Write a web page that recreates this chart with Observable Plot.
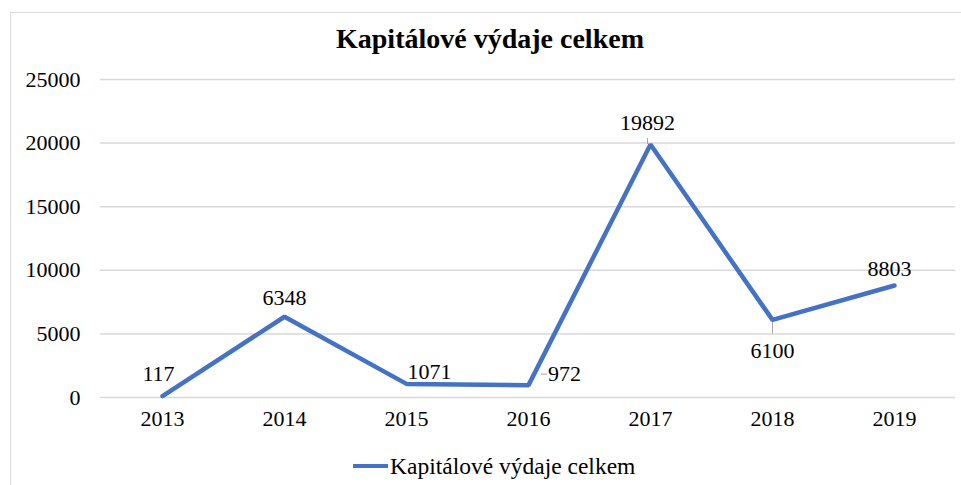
<!DOCTYPE html>
<html><head><meta charset="utf-8">
<script src="https://cdn.jsdelivr.net/npm/d3@7"></script>
<script src="https://cdn.jsdelivr.net/npm/@observablehq/plot@0.6"></script>
<style>
html,body{margin:0;padding:0;background:#fff;}
body{width:961px;height:485px;position:relative;overflow:hidden;font-family:"Liberation Serif","Times New Roman",serif;color:#000;}
#frame{position:absolute;left:10px;top:12px;width:965px;height:485px;border:1px solid #d9d9d9;box-sizing:border-box;}
#title{position:absolute;left:10px;width:960px;top:23px;text-align:center;font-weight:bold;font-size:28px;line-height:32px;}
#chart{position:absolute;left:0;top:60px;}
#legend{position:absolute;left:353px;top:451px;height:30px;display:flex;align-items:center;font-size:23.5px;}
#legend .sw{width:35px;height:4px;background:#4472C4;margin-right:2px;}
</style></head>
<body>
<div id="frame"></div>
<div id="title">Kapitálové výdaje celkem</div>
<div id="chart"></div>
<div id="legend"><span class="sw"></span><span>Kapitálové výdaje celkem</span></div>
<script>
const years = ["2013","2014","2015","2016","2017","2018","2019"];
const values = [117, 6348, 1071, 972, 19892, 6100, 8803];
const yTicks = [0, 5000, 10000, 15000, 20000, 25000];
const seriesName = "Kapitálové výdaje celkem";

const data = years.map((y, i) => ({year: y, value: values[i]}));

// label placement (layout, not data)
const place = {
  "2013": {dx: -4, dy: -22},
  "2014": {dx: 0, dy: -19},
  "2015": {dx: 23, dy: -12},
  "2016": {dx: 36, dy: -11},
  "2017": {dx: -3, dy: -22},
  "2018": {dx: 0, dy: 31},
  "2019": {dx: -5, dy: -17}
};
const blue = "#4472C4";
const labelMarks = years.map(yr => Plot.text(data, {
  filter: d => d.year === yr, x: "year", y: "value", text: d => String(d.value),
  dx: place[yr].dx, dy: place[yr].dy, fontSize: 22, fill: "#000"
}));

const chart = Plot.plot({
  width: 961, height: 377,
  marginLeft: 100, marginRight: 6, marginTop: 19, marginBottom: 40,
  style: {fontFamily: "'Liberation Serif','Times New Roman',serif", fontSize: "22px", color: "#000", background: "transparent", overflow: "visible"},
  x: {type: "point", domain: years, padding: 0.5, label: null, tickSize: 0, tickPadding: 13},
  y: {domain: [0, 25000], ticks: yTicks, label: null, tickSize: 0, tickPadding: 20, tickFormat: d => String(d)},
  marks: [
    Plot.ruleY(yTicks, {stroke: "#d9d9d9", strokeWidth: 1.5}),
    // leader lines
    Plot.ruleY(data, {filter: d => d.year === "2016", y: "value", x1: "year", x2: "year", stroke: "#a6a6a6", strokeWidth: 1, insetLeft: -3, insetRight: -3, dx: 16, dy: -11}),
    Plot.ruleX(data, {filter: d => d.year === "2018", x: "year", y1: "value", y2: "value", stroke: "#a6a6a6", strokeWidth: 1, insetTop: -7, insetBottom: -7, dy: 7}),
    Plot.ruleX(data, {filter: d => d.year === "2017", x: "year", y1: "value", y2: "value", stroke: "#a6a6a6", strokeWidth: 1, insetTop: -3, insetBottom: -3, dy: -3, dx: -3}),
    Plot.line(data, {x: "year", y: "value", stroke: blue, strokeWidth: 4.5, strokeLinejoin: "miter"}),
    ...labelMarks
  ]
});
document.getElementById("chart").appendChild(chart);
</script>
</body></html>
